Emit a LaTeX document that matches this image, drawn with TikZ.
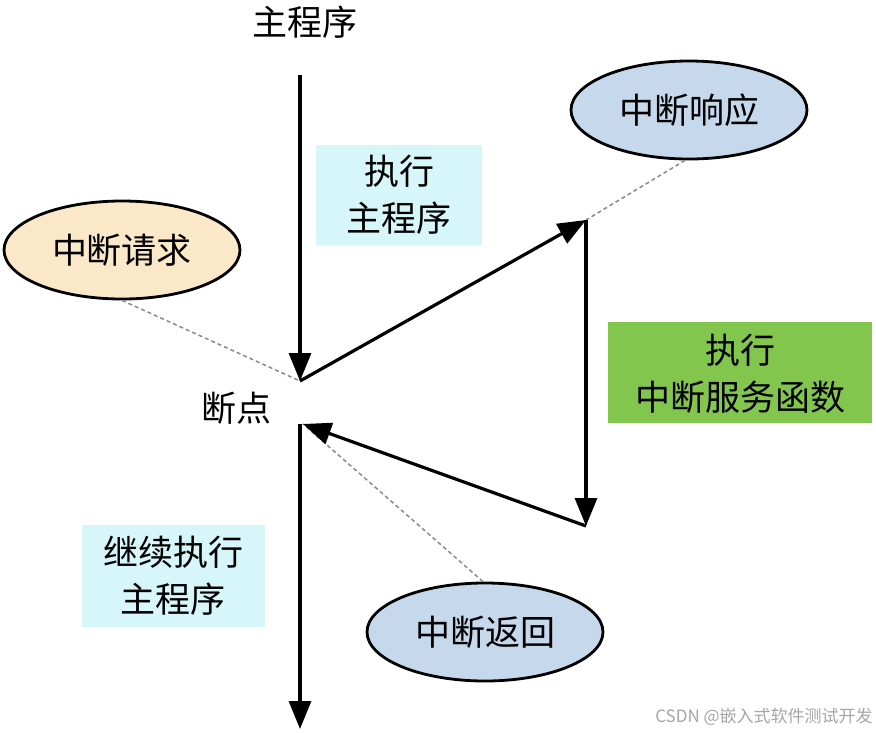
\documentclass[tikz,border=0pt]{standalone}
\usepackage{fontspec}
\setmainfont{Noto Sans CJK SC}
\usetikzlibrary{arrows.meta,shapes.geometric}
\definecolor{cyanbox}{HTML}{D6F6F9}
\definecolor{greenbox}{HTML}{82C64E}
\definecolor{blueell}{HTML}{C5D8EC}
\definecolor{beigeell}{HTML}{FBE8C8}
\definecolor{dashgray}{HTML}{8A8A8A}
\tikzset{
  flow/.style={line width=3.2pt,-{Triangle[length=28pt,width=22pt]}},
  link/.style={dashgray,line width=1.5pt,dash pattern=on 4pt off 3pt},
  ell/.style={ellipse,draw,line width=2.8pt,minimum width=236pt,minimum height=98pt,font=\fontsize{35}{40}\selectfont,inner sep=0pt},
  boxed/.style={align=center,font=\fontsize{35}{47}\selectfont,inner sep=0pt},
  lbl/.style={font=\fontsize{35}{40}\selectfont,inner sep=0pt}
}
\begin{document}
\begin{tikzpicture}[x=1pt,y=-1pt]
\useasboundingbox[fill=white] (0,0) rectangle (876,732);
% boxes
\fill[cyanbox] (316,145) rectangle (482,245);
\node[boxed] (mainbox) at (399,195) {执行\\主程序};
\fill[greenbox] (608,322) rectangle (872,423);
\node[boxed] (isrbox) at (740,374) {执行\\中断服务函数};
\fill[cyanbox] (82,525) rectangle (265,627);
\node[boxed] (contbox) at (173,576) {继续执行\\主程序};
% ellipses
\node[ell,fill=beigeell] (req) at (122,250) {中断请求};
\node[ell,fill=blueell] (resp) at (689,110) {中断响应};
\node[ell,fill=blueell] (ret) at (485,632) {中断返回};
% labels
\node[lbl] (title) at (305,22) {主程序};
\node[lbl] (bplabel) at (236,408) {断点};
\node[font=\fontsize{17}{20}\selectfont,text=black!35,inner sep=0pt] (wm) at (764,717) {CSDN @嵌入式软件测试开发};
% coordinates
\coordinate (top) at (300,75);
\coordinate (bp1) at (300,381);
\coordinate (rtop) at (586,220);
\coordinate (rbot) at (586,526);
\coordinate (bp2) at (303,424);
\coordinate (down0) at (300,424);
\coordinate (bottom) at (300,729);
% dashed links
\draw[link] (req.south) -- (bp1);
\draw[link] ([xshift=-4pt]resp.south) -- (rtop);
\draw[link] ([xshift=-2pt]ret.north) -- (bp2);
% flow
\draw[flow] (top) -- (bp1);
\draw[flow] (bp1) -- (rtop);
\draw[flow] (rtop) -- (rbot);
\draw[flow] (rbot) -- (bp2);
\draw[flow] (down0) -- (bottom);
\end{tikzpicture}
\end{document}
